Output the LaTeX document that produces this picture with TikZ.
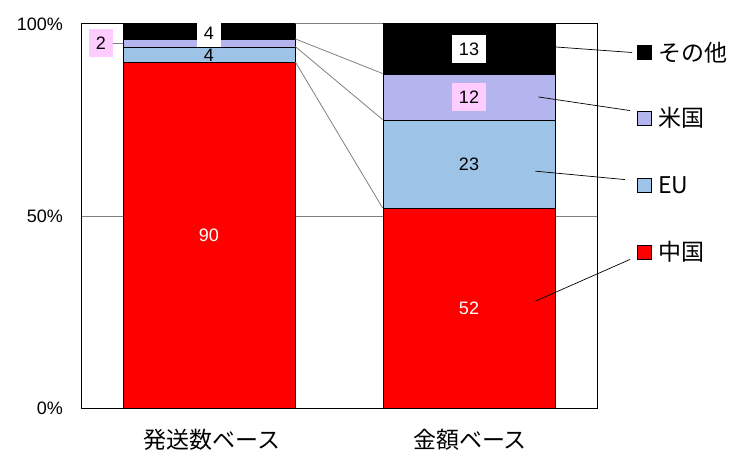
\documentclass[tikz,border=0pt]{standalone}
\usepackage{fontspec}
\setmainfont{Liberation Sans}
\newfontfamily\jp{Noto Sans CJK JP}
\usetikzlibrary{positioning}
\definecolor{cnred}{RGB}{255,0,0}
\definecolor{eublue}{RGB}{157,195,230}
\definecolor{usviolet}{RGB}{180,180,238}
\definecolor{lblpink}{RGB}{255,204,255}
\begin{document}
\begin{tikzpicture}[x=1pt, y=-1pt,
    seg/.style={draw=black, line width=0.8pt, inner sep=0pt,
        minimum width=172pt},
    val/.style={font=\fontsize{18}{18}\selectfont, text height=13pt,
        text depth=0pt, inner xsep=6.5pt, inner ysep=7.5pt},
    tick/.style={font=\fontsize{18}{18}\selectfont, anchor=east, inner sep=2pt},
    cat/.style={font=\jp\fontsize{23}{23}\selectfont},
    key/.style={draw=black, line width=0.8pt, minimum size=14pt, inner sep=0pt},
    keytext/.style={font=\jp\fontsize{23}{23}\selectfont, inner sep=1pt},
    flow/.style={gray, line width=0.8pt},
    lead/.style={black, line width=0.7pt}
]
    \useasboundingbox (0,0) rectangle (750,462);
    % grid and frame
    \draw[gray, line width=0.8pt] (81,216) -- (597,216);
    \draw[black, line width=1pt] (81,24) rectangle (597,408);
    % left bar
    \node[seg, fill=cnred, minimum height=345.6pt] (l-cn) at (209,235.2) {};
    \node[seg, fill=eublue, minimum height=15.36pt] (l-eu) at (209,54.72) {};
    \node[seg, fill=usviolet, minimum height=7.68pt] (l-us) at (209,43.2) {};
    \node[seg, fill=black, minimum height=15.36pt] (l-ot) at (209,31.68) {};
    % right bar
    \node[seg, fill=cnred, minimum height=199.68pt] (r-cn) at (469,308.16) {};
    \node[seg, fill=eublue, minimum height=88.32pt] (r-eu) at (469,164.16) {};
    \node[seg, fill=usviolet, minimum height=46.08pt] (r-us) at (469,96.96) {};
    \node[seg, fill=black, minimum height=49.92pt] (r-ot) at (469,48.96) {};
    % series lines
    \draw[flow] (l-ot.north east) -- (r-ot.north west);
    \draw[flow] (l-us.north east) -- (r-us.north west);
    \draw[flow] (l-eu.north east) -- (r-eu.north west);
    \draw[flow] (l-cn.north east) -- (r-cn.north west);
    % values
    \node[val, text=white] (v-lcn) at (l-cn) {90};
    \node[val] (v-leu) at (l-eu) {4};
    \node[val, fill=lblpink] (v-lus) at (101,43.2) {2};
    \draw[flow] (v-lus.east) -- (l-us.west);
    \node[val, fill=white, inner xsep=7pt] (v-lot) at (209,33) {4};
    \node[val, text=white] (v-rcn) at (r-cn) {52};
    \node[val] (v-reu) at (r-eu) {23};
    \node[val, fill=lblpink] (v-rus) at (r-us) {12};
    \node[val, fill=white] (v-rot) at (r-ot) {13};
    % axis
    \node[tick] (t0) at (65,408) {0\%};
    \node[tick] (t50) at (65,216) {50\%};
    \node[tick] (t100) at (65,24) {100\%};
    \node[cat] (c-num) at (212,440) {発送数ベース};
    \node[cat] (c-amt) at (470,440) {金額ベース};
    % legend
    \node[key, fill=black] (key-ot) at (644.5,52.5) {};
    \node[key, fill=usviolet] (key-us) at (644.5,118) {};
    \node[key, fill=eublue] (key-eu) at (644.5,185) {};
    \node[key, fill=cnred] (key-cn) at (644.5,252) {};
    \node[keytext, right=5pt of key-ot] (k-ot) {その他};
    \node[keytext, right=5pt of key-us] (k-us) {米国};
    \node[keytext, right=5pt of key-eu] (k-eu) {EU};
    \node[keytext, right=5pt of key-cn] (k-cn) {中国};
    \draw[lead] ([yshift=2pt]r-ot.east) -- ([xshift=-5pt]key-ot.west);
    \draw[lead] ([xshift=-17pt]r-us.east) -- ([xshift=-7pt]key-us.north west);
    \draw[lead] ([shift={(-20pt,-7pt)}]r-eu.east) -- ([shift={(-12pt,-2pt)}]key-eu.north west);
    \draw[lead] ([shift={(-20pt,7pt)}]r-cn.east) -- ([xshift=-7pt]key-cn.south west);
\end{tikzpicture}
\end{document}
